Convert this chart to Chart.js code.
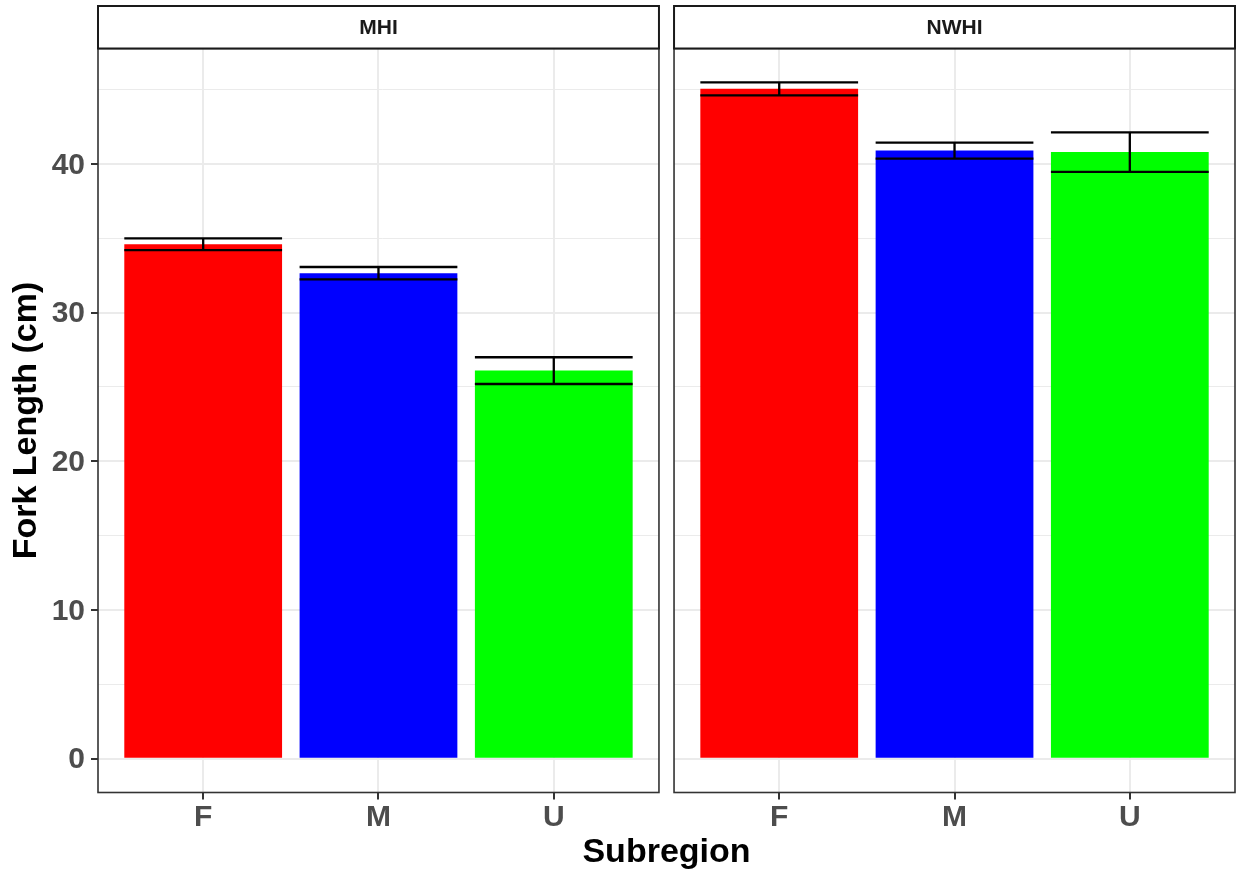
<!DOCTYPE html>
<html>
<head>
<meta charset="utf-8">
<script src="https://cdn.jsdelivr.net/npm/chart.js@4.4.1/dist/chart.umd.min.js"></script>
<style>
  html, body { margin: 0; padding: 0; background: #ffffff; }
  #wrap { position: relative; width: 1238px; height: 873px; }
</style>
</head>
<body>
<div id="wrap"><canvas id="chart"></canvas></div>
<script>
// Mean fork length (cm) and standard error by sex, faceted by region
const regions = ['MHI', 'NWHI'];
const categories = ['F', 'M', 'U'];
const meanMHI = [34.6, 32.65, 26.1];
const seMHI = [0.4, 0.42, 0.9];
const meanNWHI = [45.05, 40.9, 40.8];
const seNWHI = [0.44, 0.54, 1.33];
const yTickValues = [0, 10, 20, 30, 40];
const barColors = ['#FF0000', '#0000FF', '#00FF00'];

// Facet geometry in x-axis units: each panel holds 3 categories plus 0.6 padding on each side
const PAD = 0.6;
const PANEL_SPAN = categories.length - 1 + 2 * PAD;
const PANEL_GAP = 0.086;
const panelStart = regions.map((r, p) => 0.4 + p * (PANEL_SPAN + PANEL_GAP));

const means = [meanMHI, meanNWHI];
const ses = [seMHI, seNWHI];
const points = [], errs = [], colors = [], tickLabels = [];
regions.forEach((r, p) => {
  categories.forEach((c, i) => {
    points.push({ x: panelStart[p] + PAD + i, y: means[p][i] });
    errs.push(ses[p][i]);
    colors.push(barColors[i]);
    tickLabels.push(c);
  });
});

// y range with 5% expansion around [0, highest error bar]
const yHigh = Math.max(...points.map((d, i) => d.y + errs[i]));
const yMin = -0.05 * yHigh, yMax = yHigh * 1.05;
const yAll = [];
for (let v = 0; v <= yHigh; v += 5) yAll.push(v);

const FONT = "'Liberation Sans', Arial, Helvetica, sans-serif";

const facetPlugin = {
  id: 'facets',
  beforeDatasetsDraw(chart) {
    const { ctx, chartArea: a, scales: { x } } = chart;
    ctx.save();
    ctx.fillStyle = '#ffffff';
    for (let p = 1; p < regions.length; p++) {
      const l = x.getPixelForValue(panelStart[p] - PANEL_GAP);
      const r = x.getPixelForValue(panelStart[p]);
      ctx.fillRect(l, a.top - 2, r - l, a.bottom - a.top + 4);
    }
    ctx.restore();
  },
  afterDatasetsDraw(chart) {
    const { ctx, chartArea: a, scales: { x, y } } = chart;
    const meta = chart.getDatasetMeta(0);
    ctx.save();
    // error bars: mean +/- se
    ctx.strokeStyle = '#000000';
    ctx.lineWidth = 2.3;
    meta.data.forEach((bar, i) => {
      const hw = bar.width / 2;
      const yl = y.getPixelForValue(points[i].y - errs[i]);
      const yu = y.getPixelForValue(points[i].y + errs[i]);
      ctx.beginPath();
      ctx.moveTo(bar.x - hw, yu); ctx.lineTo(bar.x + hw, yu);
      ctx.moveTo(bar.x, yu); ctx.lineTo(bar.x, yl);
      ctx.moveTo(bar.x - hw, yl); ctx.lineTo(bar.x + hw, yl);
      ctx.stroke();
    });
    // panel borders and strips
    regions.forEach((r, p) => {
      const l = x.getPixelForValue(panelStart[p]);
      const rr = x.getPixelForValue(panelStart[p] + PANEL_SPAN);
      ctx.strokeStyle = '#333333';
      ctx.lineWidth = 1.6;
      ctx.strokeRect(l, a.top, rr - l, a.bottom - a.top);
      const sTop = 6;
      ctx.fillStyle = '#ffffff';
      ctx.fillRect(l, sTop, rr - l, a.top - sTop);
      ctx.strokeStyle = '#1A1A1A';
      ctx.lineWidth = 2;
      ctx.strokeRect(l, sTop, rr - l, a.top - sTop);
      ctx.fillStyle = '#1A1A1A';
      ctx.font = "bold 21px " + FONT;
      ctx.textAlign = 'center';
      ctx.textBaseline = 'middle';
      ctx.fillText(r, (l + rr) / 2, (sTop + a.top) / 2 + 1);
    });
    ctx.restore();
  }
};

new Chart(document.getElementById('chart'), {
  type: 'bar',
  data: {
    datasets: [{
      data: points,
      backgroundColor: colors,
      borderWidth: 0,
      barPercentage: 0.9,
      categoryPercentage: 1.0
    }]
  },
  options: {
    responsive: true,
    maintainAspectRatio: false,
    animation: false,
    layout: { padding: { top: 48.5, right: 3, left: 0, bottom: 0 } },
    plugins: { legend: { display: false }, tooltip: { enabled: false } },
    scales: {
      x: {
        type: 'linear',
        offset: false,
        min: panelStart[0],
        max: panelStart[regions.length - 1] + PANEL_SPAN,
        afterBuildTicks: s => { s.ticks = points.map(d => ({ value: d.x })); },
        afterFit: s => { s.height = 80.5; },
        border: { display: false },
        grid: { offset: false, color: '#EBEBEB', lineWidth: 2, tickLength: 7, tickColor: '#333333', tickWidth: 2 },
        ticks: {
          autoSkip: false, maxRotation: 0, padding: 3,
          color: '#4D4D4D',
          font: { family: FONT, size: 30, weight: 'bold', lineHeight: 1 },
          callback: (v, i) => tickLabels[i]
        },
        title: {
          display: true, text: 'Subregion', color: '#000000',
          font: { family: FONT, size: 34, weight: 'bold', lineHeight: 1.2 },
          padding: { top: 0, bottom: 0 }
        }
      },
      y: {
        min: yMin,
        max: yMax,
        afterBuildTicks: s => { s.ticks = yAll.map(v => ({ value: v })); },
        afterFit: s => { s.width = 98; },
        border: { display: false },
        grid: {
          color: '#EBEBEB',
          lineWidth: c => (yTickValues.includes(c.tick.value) ? 2 : 1),
          tickLength: 7,
          tickWidth: 2,
          tickColor: c => (yTickValues.includes(c.tick.value) ? '#333333' : 'rgba(0,0,0,0)')
        },
        ticks: {
          autoSkip: false, padding: 6, labelOffset: 1.5,
          color: '#4D4D4D',
          font: { family: FONT, size: 30, weight: 'bold' },
          callback: v => (yTickValues.includes(v) ? String(v) : '')
        },
        title: {
          display: true, text: 'Fork Length (cm)', color: '#000000',
          font: { family: FONT, size: 34, weight: 'bold', lineHeight: 1.2 },
          padding: { top: 6.5, bottom: 0 }
        }
      }
    }
  },
  plugins: [facetPlugin]
});
</script>
</body>
</html>
